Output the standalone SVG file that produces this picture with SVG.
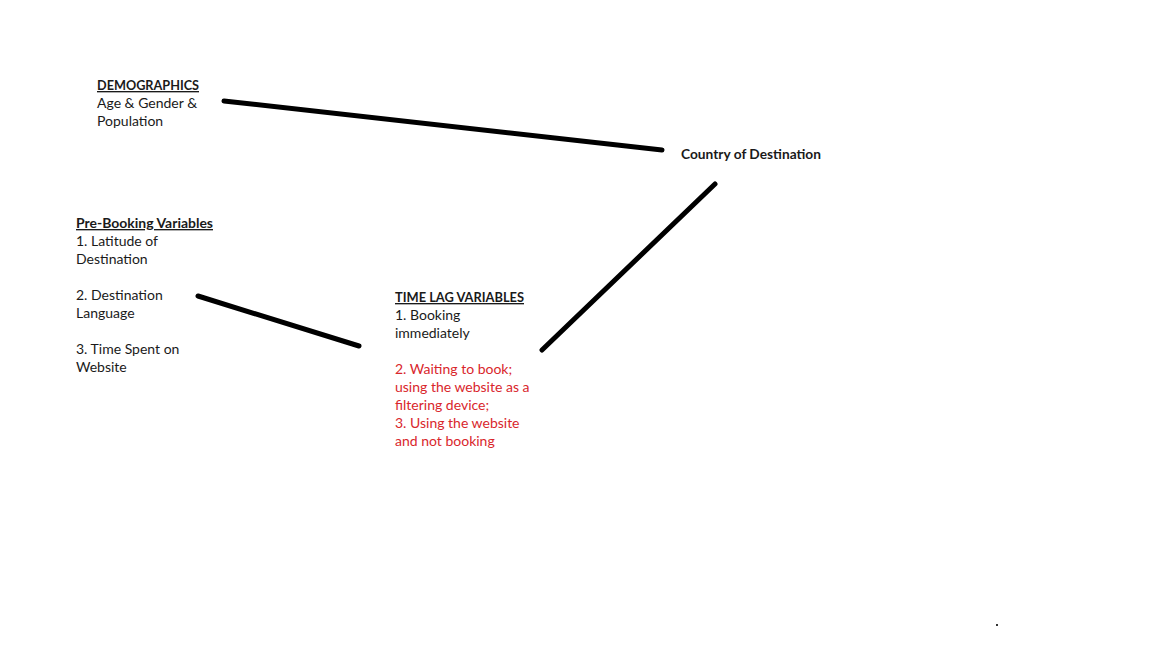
<svg xmlns="http://www.w3.org/2000/svg" width="1152" height="648" viewBox="0 0 1152 648">
<style>
text{font-family:Lato,"Open Sans","Liberation Sans",sans-serif;font-size:14px;fill:#1a1a1a}
.b{font-weight:bold;font-size:13.5px}
.u{text-decoration:underline}
.r{fill:#d9262c}
.c{stroke:#000;stroke-width:5;stroke-linecap:round;fill:none}
</style>
<rect width="1152" height="648" fill="#fff"/>
<g id="connectors">
<line class="c" x1="224" y1="101" x2="662" y2="150"/>
<line class="c" x1="198" y1="296" x2="359" y2="346"/>
<line class="c" x1="542" y1="350" x2="715" y2="184"/>
</g>
<g id="demographics">
<text x="97" y="90" class="b u" textLength="102" lengthAdjust="spacingAndGlyphs">DEMOGRAPHICS</text>
<text x="97" y="108">Age &amp; Gender &amp;</text>
<text x="97" y="126">Population</text>
</g>
<g id="country">
<text x="681" y="159" class="b" textLength="140" lengthAdjust="spacingAndGlyphs">Country of Destination</text>
</g>
<g id="prebooking">
<text x="76" y="228" class="b u" textLength="137" lengthAdjust="spacingAndGlyphs">Pre-Booking Variables</text>
<text x="76" y="246">1. Latitude of</text>
<text x="76" y="264">Destination</text>
<text x="76" y="300">2. Destination</text>
<text x="76" y="318">Language</text>
<text x="76" y="354">3. Time Spent on</text>
<text x="76" y="372">Website</text>
</g>
<g id="timelag">
<text x="395" y="302" class="b u" textLength="129" lengthAdjust="spacingAndGlyphs">TIME LAG VARIABLES</text>
<text x="395" y="320">1. Booking</text>
<text x="395" y="338">immediately</text>
<text x="395" y="374" class="r">2. Waiting to book;</text>
<text x="395" y="392" class="r">using the website as a</text>
<text x="395" y="410" class="r">filtering device;</text>
<text x="395" y="428" class="r">3. Using the website</text>
<text x="395" y="446" class="r">and not booking</text>
</g>
<rect x="996" y="624" width="2" height="2" fill="#333"/>
</svg>
